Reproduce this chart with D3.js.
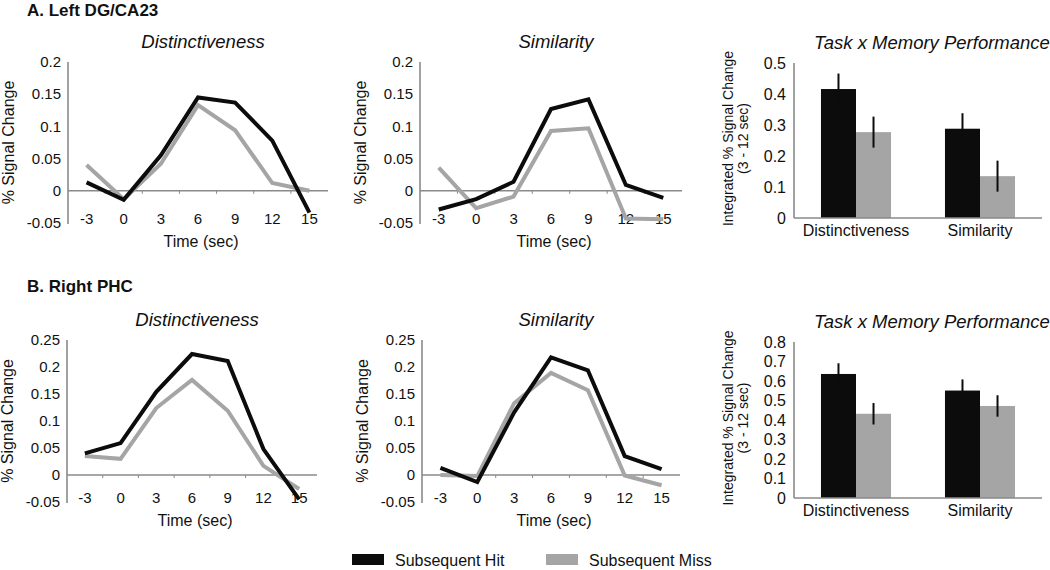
<!DOCTYPE html>
<html>
<head>
<meta charset="utf-8">
<script src="https://cdn.jsdelivr.net/npm/d3@7"></script>
<style>
  body { margin: 0; background: #fff; }
  svg { font-family: "Liberation Sans", Arial, sans-serif; }
</style>
</head>
<body>
<svg id="chart" width="1050" height="570"></svg>
<script>
// time points (sec) shared by every line panel
var timeLabels = ["-3", "0", "3", "6", "9", "12", "15"];

// A. Left DG/CA23
var aDistHit  = [0.013, -0.014, 0.055, 0.145, 0.137, 0.078, -0.034];
var aDistMiss = [0.040, -0.013, 0.042, 0.133, 0.094, 0.012, 0.000];
var aSimHit   = [-0.029, -0.013, 0.014, 0.127, 0.142, 0.009, -0.011];
var aSimMiss  = [0.036, -0.027, -0.009, 0.093, 0.097, -0.043, -0.044];
var aLineTicks = [-0.05, 0, 0.05, 0.1, 0.15, 0.2];

// B. Right PHC
var bDistHit  = [0.040, 0.059, 0.154, 0.224, 0.211, 0.048, -0.045];
var bDistMiss = [0.035, 0.030, 0.124, 0.176, 0.119, 0.017, -0.026];
var bSimHit   = [0.013, -0.013, 0.116, 0.218, 0.194, 0.035, 0.011];
var bSimMiss  = [0.000, -0.002, 0.133, 0.189, 0.157, -0.001, -0.019];
var bLineTicks = [-0.05, 0, 0.05, 0.1, 0.15, 0.2, 0.25];

// integrated signal change (3 - 12 sec)
var barCategories = ["Distinctiveness", "Similarity"];
var aBarHit = [0.416, 0.288];
var aBarMiss = [0.277, 0.135];
var aBarHitErr = [0.05, 0.05];
var aBarMissErr = [0.05, 0.05];
var aBarTicks = [0, 0.1, 0.2, 0.3, 0.4, 0.5];
var bBarHit = [0.636, 0.551];
var bBarMiss = [0.432, 0.472];
var bBarHitErr = [0.055, 0.057];
var bBarMissErr = [0.055, 0.055];
var bBarTicks = [0, 0.1, 0.2, 0.3, 0.4, 0.5, 0.6, 0.7, 0.8];

var seriesNames = ["Subsequent Hit", "Subsequent Miss"];

var HIT = "#0c0c0c", MISS = "#a5a5a5", AXIS = "#8a8a8a";
var svg = d3.select("#chart");

function fmt(v) {
	return v === 0 ? "0" : String(+v.toFixed(2));
}

function drawLinePanel(o) {
	var g = svg.append("g");
	var x = d3.scaleBand().domain(timeLabels).range([o.x0, o.x1]);
	var y = d3.scaleLinear().domain([o.ticks[0], o.ticks[o.ticks.length - 1]]).range([o.yBottom, o.yTop]);
	var bw = x.bandwidth();

	// y axis line
	g.append("line")
		.attr("x1", o.x0).attr("x2", o.x0)
		.attr("y1", y(o.ticks[o.ticks.length - 1])).attr("y2", y(o.ticks[0]) + 1)
		.attr("stroke", AXIS).attr("stroke-width", 1.6);
	g.selectAll(".yt").data(o.ticks).enter().append("text")
		.attr("x", o.x0 - 7).attr("y", function(d) { return y(d); })
		.attr("dy", "0.35em").attr("text-anchor", "end")
		.attr("font-size", 15).attr("fill", "#111")
		.text(fmt);

	// x axis at zero, with small ticks at band edges
	g.append("line")
		.attr("x1", o.x0).attr("x2", o.x1)
		.attr("y1", y(0)).attr("y2", y(0))
		.attr("stroke", AXIS).attr("stroke-width", 1.6);
	g.selectAll(".xtk").data(timeLabels.slice(1)).enter().append("line")
		.attr("x1", function(d) { return x(d); }).attr("x2", function(d) { return x(d); })
		.attr("y1", y(0)).attr("y2", y(0) + 3)
		.attr("stroke", AXIS).attr("stroke-width", 1);
	g.selectAll(".xt").data(timeLabels).enter().append("text")
		.attr("x", function(d) { return x(d) + bw / 2; })
		.attr("y", y(o.ticks[0]) + 1)
		.attr("text-anchor", "middle")
		.attr("font-size", 15).attr("fill", "#111")
		.text(function(d) { return d; });

	var line = d3.line()
		.x(function(d, i) { return x(timeLabels[i]) + bw / 2; })
		.y(function(d) { return y(d); });

	g.append("path").attr("d", line(o.miss))
		.attr("fill", "none").attr("stroke", MISS).attr("stroke-width", 4)
		.attr("stroke-linejoin", "miter");
	g.append("path").attr("d", line(o.hit))
		.attr("fill", "none").attr("stroke", HIT).attr("stroke-width", 4)
		.attr("stroke-linejoin", "miter");

	g.append("text")
		.attr("x", (o.x0 + o.x1) / 2 + 5).attr("y", o.yTop - 14)
		.attr("text-anchor", "middle").attr("font-size", 18.5)
		.attr("font-style", "italic").attr("fill", "#111")
		.text(o.title);
	g.append("text")
		.attr("x", (o.x0 + o.x1) / 2 + 3).attr("y", y(o.ticks[0]) + 24)
		.attr("text-anchor", "middle").attr("font-size", 16).attr("fill", "#111")
		.text("Time (sec)");
	g.append("text")
		.attr("transform", "translate(" + (o.x0 - 54) + "," + ((o.yTop + o.yBottom) / 2) + ") rotate(-90)")
		.attr("text-anchor", "middle").attr("font-size", 16).attr("fill", "#111")
		.text("% Signal Change");
}

function drawBarPanel(o) {
	var g = svg.append("g");
	var x = d3.scaleBand().domain(barCategories).range([o.x0, o.x1]);
	var xs = d3.scaleBand().domain(["hit", "miss"]).range([0, x.bandwidth()]).paddingOuter(0.77);
	var y = d3.scaleLinear().domain([0, o.ticks[o.ticks.length - 1]]).range([o.yBottom, o.yTop]);

	g.append("line")
		.attr("x1", o.x0).attr("x2", o.x0)
		.attr("y1", o.yTop).attr("y2", o.yBottom)
		.attr("stroke", AXIS).attr("stroke-width", 1.6);
	g.selectAll(".yt").data(o.ticks).enter().append("text")
		.attr("x", o.x0 - 8).attr("y", function(d) { return y(d); })
		.attr("dy", "0.35em").attr("text-anchor", "end")
		.attr("font-size", 16).attr("fill", "#111")
		.text(fmt);

	var groups = [
		{ key: "hit", vals: o.hit, err: o.hitErr, color: HIT },
		{ key: "miss", vals: o.miss, err: o.missErr, color: MISS }
	];
	groups.forEach(function(s) {
		g.selectAll(".b" + s.key).data(barCategories).enter().append("rect")
			.attr("x", function(c) { return x(c) + xs(s.key); })
			.attr("width", xs.bandwidth())
			.attr("y", function(c, i) { return y(s.vals[i]); })
			.attr("height", function(c, i) { return y(0) - y(s.vals[i]); })
			.attr("fill", s.color);
		g.selectAll(".e" + s.key).data(barCategories).enter().append("line")
			.attr("x1", function(c) { return x(c) + xs(s.key) + xs.bandwidth() / 2; })
			.attr("x2", function(c) { return x(c) + xs(s.key) + xs.bandwidth() / 2; })
			.attr("y1", function(c, i) { return y(s.vals[i] + s.err[i]); })
			.attr("y2", function(c, i) { return y(s.vals[i] - s.err[i]); })
			.attr("stroke", HIT).attr("stroke-width", 2);
	});

	g.append("line")
		.attr("x1", o.x0).attr("x2", o.x1)
		.attr("y1", y(0)).attr("y2", y(0))
		.attr("stroke", AXIS).attr("stroke-width", 1.6);
	g.selectAll(".xt").data(barCategories).enter().append("text")
		.attr("x", function(c) { return x(c) + x.bandwidth() / 2; })
		.attr("y", y(0) + 18)
		.attr("text-anchor", "middle").attr("font-size", 16).attr("fill", "#111")
		.text(function(c) { return c; });

	g.append("text")
		.attr("x", 932).attr("y", o.yTop - 14)
		.attr("text-anchor", "middle").attr("font-size", 18.5)
		.attr("font-style", "italic").attr("fill", "#111")
		.text("Task x Memory Performance");
	var ylab = g.append("text")
		.attr("transform", "translate(" + (o.x0 - 61) + "," + ((o.yTop + o.yBottom) / 2 - 2) + ") rotate(-90)")
		.attr("text-anchor", "middle").attr("font-size", 14).attr("fill", "#111");
	ylab.append("tspan").attr("x", 0).attr("dy", 0).text("Integrated % Signal Change");
	ylab.append("tspan").attr("x", 0).attr("dy", 15).text("(3 - 12 sec)");
}

// panel headings
svg.append("text").attr("x", 27).attr("y", 16)
	.attr("font-size", 17).attr("font-weight", "bold").attr("fill", "#111")
	.text("A. Left DG/CA23");
svg.append("text").attr("x", 27).attr("y", 292)
	.attr("font-size", 17).attr("font-weight", "bold").attr("fill", "#111")
	.text("B. Right PHC");

drawLinePanel({ x0: 68, x1: 328, yTop: 62, yBottom: 223, ticks: aLineTicks, hit: aDistHit, miss: aDistMiss, title: "Distinctiveness" });
drawLinePanel({ x0: 420, x1: 682, yTop: 62, yBottom: 223, ticks: aLineTicks, hit: aSimHit, miss: aSimMiss, title: "Similarity" });
drawBarPanel({ x0: 794, x1: 1042, yTop: 63, yBottom: 218, ticks: aBarTicks, hit: aBarHit, miss: aBarMiss, hitErr: aBarHitErr, missErr: aBarMissErr });

drawLinePanel({ x0: 67, x1: 317, yTop: 340, yBottom: 502, ticks: bLineTicks, hit: bDistHit, miss: bDistMiss, title: "Distinctiveness" });
drawLinePanel({ x0: 422, x1: 680, yTop: 340, yBottom: 502, ticks: bLineTicks, hit: bSimHit, miss: bSimMiss, title: "Similarity" });
drawBarPanel({ x0: 794, x1: 1042, yTop: 342, yBottom: 498, ticks: bBarTicks, hit: bBarHit, miss: bBarMiss, hitErr: bBarHitErr, missErr: bBarMissErr });

// legend
var legX = d3.scaleOrdinal().domain(seriesNames).range([352, 546]);
var legend = svg.selectAll(".leg").data(seriesNames).enter().append("g")
	.attr("transform", function(d) { return "translate(" + legX(d) + ",554)"; });
legend.append("rect").attr("width", 32).attr("height", 11)
	.attr("fill", function(d, i) { return i === 0 ? HIT : MISS; });
legend.append("text").attr("x", 43).attr("y", 6).attr("dy", "0.35em")
	.attr("font-size", 16).attr("fill", "#111")
	.text(function(d) { return d; });
</script>
</body>
</html>
